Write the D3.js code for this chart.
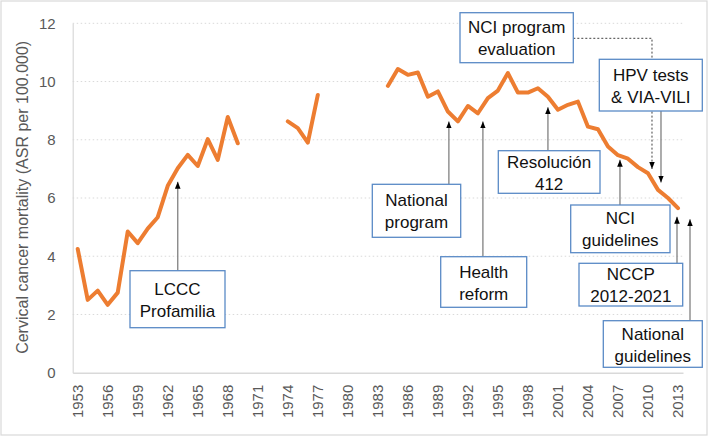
<!DOCTYPE html>
<html>
<head>
<meta charset="utf-8">
<script src="https://cdn.jsdelivr.net/npm/d3@7"></script>
<style>
  body { margin: 0; background: #fff; }
  svg { display: block; font-family: "Liberation Sans", Arial, sans-serif; }
</style>
</head>
<body>
<svg id="chart" width="709" height="437"></svg>
<script>
// data
const years = d3.range(1953, 2014);
const mortality = [
  4.25, 2.5, 2.82, 2.33, 2.75, 4.85, 4.45, 4.95, 5.34, 6.42, 7.02, 7.48, 7.1, 8.02, 7.31, 8.78, 7.88,
  null, null, null, null,
  8.63, 8.4, 7.9, 9.54,
  null, null, null, null, null, null,
  9.85, 10.43, 10.23, 10.31, 9.48, 9.66, 8.97, 8.63, 9.16, 8.91,
  9.43, 9.69, 10.29, 9.62, 9.62, 9.77, 9.48, 9.03, 9.2, 9.31,
  8.45, 8.36, 7.77, 7.47, 7.35, 7.06, 6.85, 6.28, 6.0, 5.65
];
const yTicks = [0, 2, 4, 6, 8, 10, 12];
const xTickYears = years.filter(y => (y - 1953) % 3 === 0);

// annotations: text, year and value the arrow points at
const noteLines = [
  ["LCCC", "Profamilia"], ["National", "program"], ["Health", "reform"],
  ["Resolución", "412"], ["NCI", "guidelines"], ["NCCP", "2012-2021"],
  ["National", "guidelines"], ["HPV tests", "& VIA-VILI"], ["NCI program", "evaluation"]
];
const noteYears = [1963, 1990.1, 1993.5, 2000, 2007.2, 2012.9, 2014.2, 2011.3, 2010.4];
const noteValues = [6.56, 8.63, 8.63, 9.12, 7.31, 5.36, 5.27, 6.53, 7.0];
// box layout [x, y, w, h] and how the arrow leaves it
const noteBoxes = [
  [130, 270.7, 95, 57], [372.3, 184.3, 88.4, 53], [440.7, 256.7, 86, 50.6],
  [498.3, 150.7, 101.7, 42.6], [570.7, 205, 99.3, 47.7], [579, 263.3, 103.7, 42.7],
  [603.3, 320.7, 99, 46.6], [599.3, 59.3, 103, 51.7], [460, 12.7, 113.3, 50]
];
const noteKind = ["up", "up", "up", "up", "up", "up", "up", "down", "elbow"];

const svg = d3.select("#chart");
const plotLeft = 72.7, plotRight = 683, plotTop = 23.3, plotBottom = 372.7;

svg.append("rect")
  .attr("x", 1).attr("y", 1).attr("width", 706).attr("height", 434)
  .attr("fill", "#fff").attr("stroke", "#d9d9d9").attr("stroke-width", 1.2);

const x = d3.scaleBand().domain(years).range([plotLeft, plotRight]).padding(0);
const bw = x.bandwidth();
const xp = yr => x(1953) + bw / 2 + (yr - 1953) * bw;
const y = d3.scaleLinear().domain([0, 12]).range([plotBottom, plotTop]);

// gridlines
svg.append("g")
  .selectAll("line")
  .data(yTicks.filter(t => t > 0))
  .join("line")
  .attr("x1", plotLeft).attr("x2", plotRight)
  .attr("y1", d => y(d)).attr("y2", d => y(d))
  .attr("stroke", "#d9d9d9").attr("stroke-width", 1)
  .attr("stroke-dasharray", "1.5,2.5");

// y axis
const yAxis = svg.append("g")
  .attr("transform", `translate(${plotLeft},0)`)
  .call(d3.axisLeft(y).tickValues(yTicks).tickSize(0).tickPadding(17));
yAxis.select(".domain").attr("stroke", "#d9d9d9").attr("stroke-width", 1.2);
yAxis.selectAll("text").attr("fill", "#595959").attr("font-size", 15)
  .attr("font-family", "Liberation Sans, Arial, sans-serif");

// x axis
const xAxis = svg.append("g")
  .attr("transform", `translate(0,${plotBottom})`)
  .call(d3.axisBottom(x).tickValues(xTickYears).tickSize(0).tickPadding(0));
xAxis.select(".domain").attr("stroke", "#d9d9d9").attr("stroke-width", 1.5);
xAxis.selectAll("text")
  .attr("fill", "#595959").attr("font-size", 15)
  .attr("font-family", "Liberation Sans, Arial, sans-serif")
  .attr("text-anchor", "end")
  .attr("dy", null)
  .attr("transform", "translate(5.5,12) rotate(-90)");

// y title
svg.append("text")
  .attr("transform", `translate(28,${(38 + 356.7) / 2}) rotate(-90)`)
  .attr("text-anchor", "middle")
  .attr("fill", "#595959").attr("font-size", 16)
  .text("Cervical cancer mortality (ASR per 100.000)");

// line
const line = d3.line()
  .defined(d => d[1] !== null)
  .x(d => x(d[0]) + bw / 2)
  .y(d => y(d[1]));
svg.append("path")
  .datum(years.map((yr, i) => [yr, mortality[i]]))
  .attr("d", line)
  .attr("fill", "none").attr("stroke", "#ed7d31")
  .attr("stroke-width", 4).attr("stroke-linejoin", "round").attr("stroke-linecap", "round");

// arrowhead
svg.append("defs").append("marker")
  .attr("id", "head").attr("markerUnits", "userSpaceOnUse")
  .attr("viewBox", "0 -3 7 6").attr("refX", 7).attr("refY", 0)
  .attr("markerWidth", 7).attr("markerHeight", 6).attr("orient", "auto")
  .append("path").attr("d", "M0,-2.8L7,0L0,2.8Z").attr("fill", "#000");

// arrows
noteLines.forEach((lines, i) => {
  const [bx, by, w, h] = noteBoxes[i];
  const tx = xp(noteYears[i]), ty = y(noteValues[i]);
  if (noteKind[i] === "elbow") {
    const sy = by + h / 2 + 0.6;
    svg.append("path")
      .attr("d", `M${bx + w},${sy}H${tx}V${ty}`)
      .attr("fill", "none").attr("stroke", "#404040").attr("stroke-width", 1)
      .attr("stroke-dasharray", "2,2").attr("marker-end", "url(#head)");
  } else {
    const sy = noteKind[i] === "up" ? by : by + h;
    svg.append("line")
      .attr("x1", tx).attr("y1", sy).attr("x2", tx).attr("y2", ty)
      .attr("stroke", "#808080").attr("stroke-width", 1.3)
      .attr("marker-end", "url(#head)");
  }
});

// boxes
noteLines.forEach((lines, i) => {
  const [bx, by, w, h] = noteBoxes[i];
  const g = svg.append("g");
  g.append("rect")
    .attr("x", bx).attr("y", by).attr("width", w).attr("height", h)
    .attr("fill", "#fff").attr("stroke", "#5a8ac6").attr("stroke-width", 1.3);
  const cy = by + h / 2;
  g.selectAll("text")
    .data(lines)
    .join("text")
    .attr("x", bx + w / 2)
    .attr("y", (d, j) => cy - 4.5 + j * 22)
    .attr("text-anchor", "middle")
    .attr("font-size", 17).attr("fill", "#111")
    .text(d => d);
});
</script>
</body>
</html>
